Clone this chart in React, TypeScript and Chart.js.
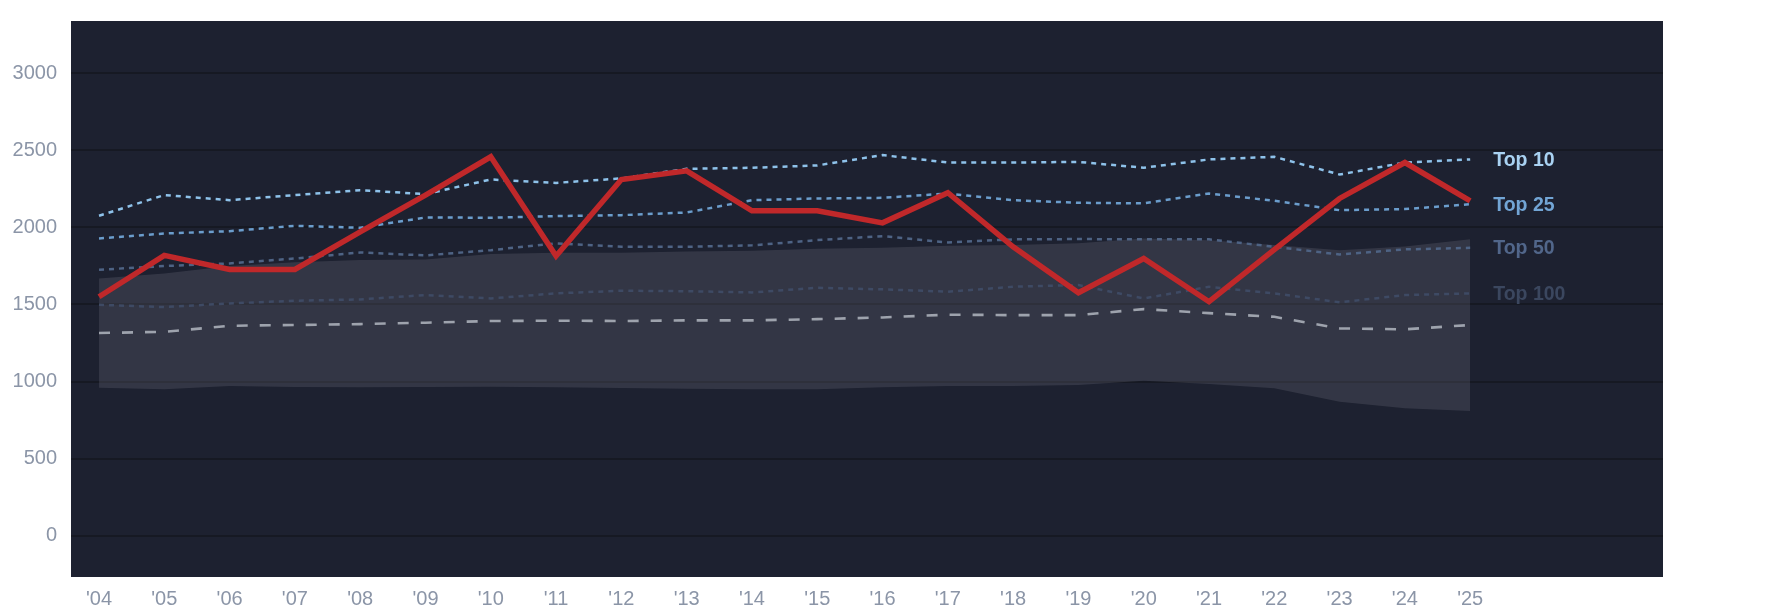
import { useEffect, useRef } from "react"
import { Chart, registerables } from "chart.js"

Chart.register(...registerables)

const years = [
  2004, 2005, 2006, 2007, 2008, 2009, 2010, 2011, 2012, 2013, 2014,
  2015, 2016, 2017, 2018, 2019, 2020, 2021, 2022, 2023, 2024, 2025,
]

const mainSeries = [
  1550, 1818, 1727, 1727, 1971, 2209, 2457, 1814, 2310, 2366, 2107,
  2107, 2029, 2224, 1874, 1576, 1798, 1518, 1855, 2187, 2420, 2172,
]
const top10 = [
  2075, 2209, 2176, 2209, 2241, 2215, 2310, 2288, 2317, 2379, 2386,
  2401, 2468, 2420, 2420, 2424, 2386, 2440, 2457, 2342, 2420, 2440,
]
const top25 = [
  1928, 1960, 1975, 2010, 1997, 2064, 2062, 2073, 2079, 2096, 2176,
  2187, 2191, 2219, 2176, 2159, 2155, 2219, 2172, 2111, 2118, 2150,
]
const top50 = [
  1725, 1749, 1766, 1798, 1837, 1818, 1852, 1896, 1874, 1874, 1883,
  1917, 1943, 1902, 1922, 1924, 1922, 1922, 1874, 1824, 1857, 1867,
]
const top100 = [
  1498, 1483, 1507, 1524, 1533, 1561, 1539, 1572, 1589, 1586, 1578,
  1608, 1598, 1583, 1615, 1626, 1539, 1615, 1572, 1514, 1561, 1572,
]
const median = [
  1315, 1323, 1362, 1367, 1373, 1382, 1393, 1395, 1393, 1397, 1397,
  1405, 1416, 1434, 1431, 1431, 1470, 1444, 1420, 1345, 1339, 1367,
]
const bandHigh = [
  1669, 1701, 1749, 1773, 1788, 1792, 1827, 1835, 1835, 1844, 1848,
  1861, 1867, 1881, 1885, 1896, 1928, 1917, 1885, 1852, 1875, 1922,
]
const bandLow = [
  961, 950, 971, 965, 963, 965, 967, 963, 959, 954, 950,
  950, 963, 972, 972, 978, 1006, 985, 957, 870, 827, 810,
]

const yTicks = [0, 500, 1000, 1500, 2000, 2500, 3000]

const tierLabels = [
  { text: "Top 10", values: top10, color: "#a9d2f2" },
  { text: "Top 25", values: top25, color: "#72a5d5" },
  { text: "Top 50", values: top50, color: "#51668a" },
  { text: "Top 100", values: top100, color: "#3b475f" },
]

const FONT = "'Liberation Sans', Arial, sans-serif"

const pts = (vals: number[]) => vals.map((v, i) => ({ x: years[i], y: v }))

const areaBackground = {
  id: "areaBackground",
  beforeDraw(chart: Chart) {
    const { ctx, chartArea } = chart
    ctx.save()
    ctx.fillStyle = "#1d2130"
    ctx.fillRect(chartArea.left, chartArea.top, chartArea.width, chartArea.height)
    ctx.restore()
  },
}

const endLabels = {
  id: "endLabels",
  afterDatasetsDraw(chart: Chart) {
    const { ctx } = chart
    const xs = chart.scales.x
    const ys = chart.scales.y
    const lastYear = years[years.length - 1]
    ctx.save()
    ctx.font = `bold 19.5px ${FONT}`
    ctx.textAlign = "left"
    ctx.textBaseline = "middle"
    tierLabels.forEach((l) => {
      ctx.fillStyle = l.color
      ctx.fillText(
        l.text,
        xs.getPixelForValue(lastYear) + 23,
        ys.getPixelForValue(l.values[l.values.length - 1]) + 1
      )
    })
    ctx.restore()
  },
}

export default function App() {
  const chartRef = useRef<HTMLCanvasElement>(null)
  const chartInstance = useRef<Chart | null>(null)

  useEffect(() => {
    document.body.style.margin = "0"
    if (!chartRef.current) return
    if (chartInstance.current) chartInstance.current.destroy()
    const ctx = chartRef.current.getContext("2d")
    if (!ctx) return

    const dotted = (color: string) => ({
      borderColor: color,
      borderWidth: 2.5,
      borderDash: [5, 5],
      pointRadius: 0,
      fill: false,
      tension: 0,
    })

    chartInstance.current = new Chart(ctx, {
      type: "line",
      data: {
        datasets: [
          {
            label: "Main",
            data: pts(mainSeries),
            borderColor: "#c0282a",
            borderWidth: 5.5,
            pointRadius: 0,
            fill: false,
            order: 0,
          },
          { label: "Top 10", data: pts(top10), ...dotted("#8ec2ea"), order: 1 },
          { label: "Top 25", data: pts(top25), ...dotted("#6b9dcc"), order: 2 },
          { label: "Top 50", data: pts(top50), ...dotted("#4e6384"), order: 3 },
          { label: "Top 100", data: pts(top100), ...dotted("#3e4a64"), order: 4 },
          {
            label: "Median",
            data: pts(median),
            borderColor: "#9ea3ad",
            borderWidth: 2.6,
            borderDash: [11, 12],
            pointRadius: 0,
            fill: false,
            order: 5,
          },
          {
            label: "Band low",
            data: pts(bandLow),
            borderWidth: 0,
            borderColor: "rgba(0,0,0,0)",
            pointRadius: 0,
            fill: false,
            order: 7,
          },
          {
            label: "Band high",
            data: pts(bandHigh),
            borderWidth: 0,
            borderColor: "rgba(0,0,0,0)",
            backgroundColor: "rgba(130,132,145,0.22)",
            pointRadius: 0,
            fill: "-1",
            order: 6,
          },
        ],
      },
      options: {
        responsive: true,
        maintainAspectRatio: false,
        animation: false,
        layout: { padding: { top: 21, right: 122, left: 0, bottom: 0 } },
        plugins: {
          legend: { display: false },
          tooltip: { enabled: false },
        },
        scales: {
          x: {
            type: "linear",
            min: 2003.571,
            max: 2027.953,
            afterBuildTicks: (axis) => {
              axis.ticks = years.map((v) => ({ value: v }))
            },
            afterFit: (axis) => {
              axis.height = 37
            },
            grid: { display: false, drawTicks: false },
            border: { display: false },
            ticks: {
              padding: 10,
              color: "#8b95a7",
              font: { family: FONT, size: 20 },
              maxRotation: 0,
              autoSkip: false,
              callback: (v) => "'" + String(v).slice(2),
            },
          },
          y: {
            min: -266,
            max: 3337,
            afterBuildTicks: (axis) => {
              axis.ticks = yTicks.map((v) => ({ value: v }))
            },
            afterFit: (axis) => {
              axis.width = 71
              axis.paddingTop = 0
              axis.paddingBottom = 0
            },
            grid: { color: "#161923", lineWidth: 2, drawTicks: false },
            border: { display: false },
            ticks: {
              padding: 14,
              color: "#8b95a7",
              font: { family: FONT, size: 20 },
              callback: (v) => String(v),
            },
          },
        },
      },
      plugins: [areaBackground, endLabels],
    })

    return () => {
      if (chartInstance.current) {
        chartInstance.current.destroy()
        chartInstance.current = null
      }
    }
  }, [])

  return (
    <div style={{ width: 1785, height: 614, position: "relative", background: "#fff" }}>
      <canvas ref={chartRef} />
    </div>
  )
}
